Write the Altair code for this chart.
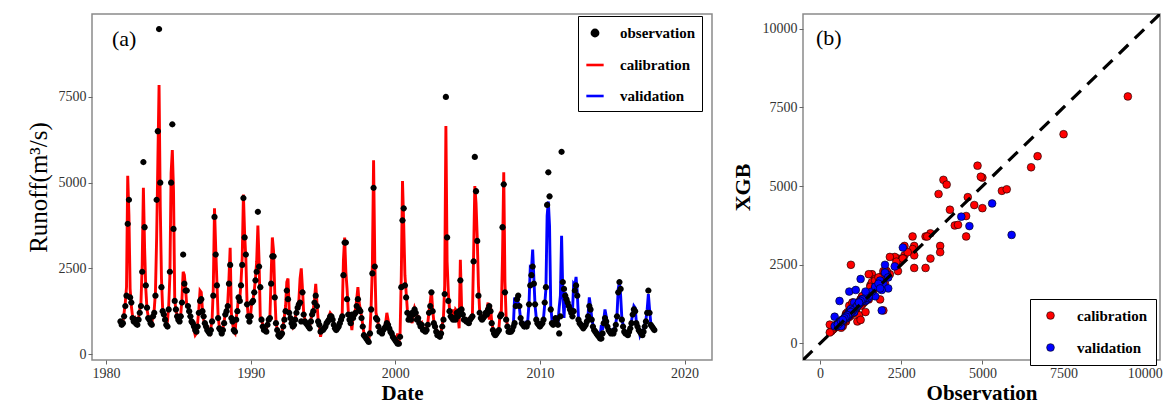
import altair as alt
import pandas as pd

# ---------------- data ----------------
years = list(range(1981, 2018))
calib_end_year = 2007  # calibration 1981-2007, validation 2008-2017

OBS = [
    [950, 850, 900, 1100, 1400, 1700, 3800, 4500, 1650, 1500, 1050, 950],      # 1981
    [1000, 880, 850, 1000, 1200, 1400, 2400, 5600, 3700, 2000, 1350, 1050],    # 1982
    [1000, 900, 850, 1100, 1200, 1700, 4500, 6500, 9480, 5000, 1950, 1250],    # 1983
    [1150, 1000, 850, 800, 1300, 2400, 5000, 6700, 3650, 1550, 1300, 1100],    # 1984
    [1000, 950, 1100, 1500, 2900, 2050, 1850, 1850, 1400, 1250, 1100, 950],    # 1985
    [900, 800, 700, 650, 800, 1200, 1550, 1600, 1250, 1100, 900, 800],         # 1986
    [700, 650, 600, 700, 950, 1700, 4000, 2900, 2000, 1050, 750, 700],         # 1987
    [600, 700, 900, 1150, 1250, 1400, 2050, 2600, 1050, 950, 700, 650],        # 1988
    [1000, 1250, 1650, 1550, 2000, 2600, 4550, 3400, 2900, 1450, 1100, 950],   # 1989
    [1100, 1500, 1550, 1800, 2150, 2400, 4150, 2550, 1950, 1000, 800, 700],    # 1990
    [700, 650, 850, 1000, 1050, 2050, 2850, 2850, 1650, 900, 700, 550],        # 1991
    [500, 550, 600, 800, 1000, 1250, 1850, 1600, 1200, 1050, 900, 800],        # 1992
    [850, 1000, 1200, 1350, 1450, 1500, 950, 1800, 1150, 950, 900, 850],       # 1993
    [800, 750, 950, 1150, 1250, 1500, 1700, 1400, 950, 850, 650, 700],         # 1994
    [700, 750, 800, 900, 950, 1000, 1100, 1100, 1000, 850, 750, 700],          # 1995
    [750, 800, 900, 1000, 1100, 2300, 3250, 3250, 1600, 1150, 1000, 900],      # 1996
    [1150, 1050, 1150, 1200, 1400, 1600, 1300, 1250, 1050, 800, 550, 500],     # 1997
    [450, 400, 350, 600, 1300, 2350, 4850, 2550, 1050, 1000, 800, 650],        # 1998
    [650, 600, 700, 750, 800, 900, 850, 750, 650, 600, 500, 450],              # 1999
    [400, 350, 300, 300, 500, 1950, 3900, 4250, 2000, 1650, 1200, 1000],       # 2000
    [1100, 1000, 1200, 1150, 1300, 1200, 1000, 1050, 900, 800, 850, 700],      # 2001
    [700, 650, 700, 850, 1200, 1400, 1800, 1250, 900, 800, 650, 550],          # 2002
    [550, 500, 600, 800, 1000, 1750, 7500, 3400, 1550, 1250, 1100, 1050],      # 2003
    [1000, 1050, 1000, 1200, 1100, 1250, 2150, 1300, 1150, 1000, 1000, 950],   # 2004
    [950, 900, 1000, 1050, 1100, 2700, 5750, 4750, 3300, 1700, 1200, 1050],    # 2005
    [1000, 1050, 1100, 1200, 1150, 1300, 1400, 1250, 900, 700, 600, 550],      # 2006
    [600, 650, 700, 1100, 1150, 3700, 4950, 1800, 1000, 800, 650, 650],        # 2007
    [650, 700, 800, 900, 1400, 1600, 1700, 1400, 1050, 900, 850, 800],         # 2008
    [850, 800, 900, 1450, 2000, 2300, 2550, 2050, 1450, 1000, 900, 850],       # 2009
    [800, 850, 900, 1000, 1500, 1950, 4350, 5300, 4600, 1300, 900, 850],       # 2010
    [900, 1050, 1000, 850, 600, 1100, 5900, 2100, 1900, 1700, 1600, 1500],     # 2011
    [1400, 1300, 1200, 1100, 1250, 1850, 2000, 1700, 1000, 900, 850, 800],     # 2012
    [750, 800, 850, 950, 1100, 1400, 1300, 1000, 800, 700, 650, 600],          # 2013
    [550, 500, 450, 450, 600, 900, 1050, 950, 800, 700, 650, 600],             # 2014
    [650, 600, 700, 850, 1100, 1800, 2100, 1900, 1000, 800, 650, 600],         # 2015
    [600, 550, 650, 750, 900, 1150, 1300, 1250, 900, 800, 700, 650],           # 2016
    [600, 550, 650, 800, 950, 1200, 1850, 1200, 850, 800, 750, 700],           # 2017
]

SIM = [
    [1000, 900, 950, 1200, 1500, 1950, 5200, 4050, 1900, 1400, 1100, 1000],    # 1981
    [1050, 950, 900, 1050, 1300, 1500, 2600, 4850, 3100, 1900, 1300, 1100],    # 1982
    [1050, 950, 900, 1150, 1300, 1800, 3400, 5600, 7850, 4300, 2200, 1300],    # 1983
    [1200, 1050, 900, 950, 1400, 2300, 5270, 5950, 4750, 1600, 1250, 1150],    # 1984
    [1050, 1000, 1150, 1600, 2400, 2300, 1900, 1400, 1400, 1200, 1050, 900],   # 1985
    [850, 700, 550, 600, 900, 1300, 1850, 1800, 1300, 1000, 850, 750],         # 1986
    [750, 650, 600, 750, 1000, 1900, 4250, 3100, 2100, 1100, 800, 700],        # 1987
    [650, 750, 950, 1200, 1300, 1500, 2200, 3100, 1200, 900, 650, 600],        # 1988
    [1050, 1300, 1700, 1600, 2100, 2800, 4650, 3500, 2800, 1500, 1100, 1000],  # 1989
    [1150, 1550, 1600, 1850, 2200, 2700, 3750, 2700, 1050, 1050, 850, 750],    # 1990
    [750, 700, 900, 1050, 1100, 2300, 3400, 3000, 1800, 950, 700, 600],        # 1991
    [550, 600, 650, 850, 1100, 1400, 2100, 2200, 1250, 1000, 900, 800],        # 1992
    [900, 1050, 1250, 1400, 1550, 2200, 2500, 1900, 1200, 1000, 900, 850],     # 1993
    [850, 800, 1000, 1200, 1300, 1600, 2050, 1500, 1000, 850, 500, 700],       # 1994
    [750, 800, 850, 950, 1000, 1100, 1200, 1150, 1050, 900, 800, 750],         # 1995
    [800, 850, 950, 1050, 1200, 2750, 3400, 2400, 1900, 1250, 1050, 950],      # 1996
    [700, 1100, 1200, 1300, 1600, 1950, 1500, 1300, 1100, 850, 600, 550],      # 1997
    [500, 450, 400, 650, 1400, 2600, 5650, 2700, 1200, 1050, 850, 700],        # 1998
    [700, 650, 750, 800, 900, 1200, 1000, 800, 700, 650, 550, 500],            # 1999
    [450, 400, 600, 350, 600, 2300, 5050, 3770, 2300, 1800, 1300, 1100],       # 2000
    [1150, 1050, 900, 1200, 1350, 1250, 1100, 1100, 950, 850, 900, 750],       # 2001
    [750, 700, 750, 900, 1250, 1500, 1850, 1300, 950, 850, 700, 600],          # 2002
    [600, 550, 650, 850, 1100, 2000, 6650, 2700, 1800, 1300, 1150, 1100],      # 2003
    [1300, 1100, 1300, 1250, 1150, 750, 2750, 1400, 1200, 1050, 1000, 950],    # 2004
    [1000, 950, 1050, 1100, 1150, 2900, 4900, 4400, 3400, 2000, 1250, 1100],   # 2005
    [1050, 1100, 1150, 1250, 1300, 1500, 1000, 1400, 950, 750, 650, 600],      # 2006
    [650, 700, 750, 1200, 1250, 2900, 5300, 2100, 1050, 850, 700, 700],        # 2007
    [700, 750, 850, 1650, 1450, 1550, 1500, 1350, 1000, 900, 850, 800],        # 2008
    [900, 850, 1000, 1500, 2500, 2450, 3050, 2200, 1400, 1050, 950, 900],      # 2009
    [850, 900, 950, 1050, 1450, 1900, 4030, 4450, 3730, 1400, 1000, 900],      # 2010
    [950, 1000, 1050, 900, 1350, 1700, 3450, 1750, 1050, 1800, 1650, 1500],    # 2011
    [1450, 1350, 1250, 1200, 2050, 2000, 2250, 1800, 1050, 950, 900, 850],     # 2012
    [800, 850, 900, 1000, 1150, 1650, 1400, 1050, 850, 750, 700, 650],         # 2013
    [600, 550, 550, 850, 700, 1000, 1300, 1100, 850, 750, 700, 650],           # 2014
    [700, 650, 750, 900, 1150, 1900, 2100, 1700, 1050, 850, 700, 650],         # 2015
    [650, 600, 700, 800, 950, 1200, 1400, 1350, 950, 800, 750, 550],           # 2016
    [650, 600, 700, 850, 1000, 1300, 1750, 1300, 900, 850, 800, 750],          # 2017
]

series_a = ["observation", "calibration", "validation"]
colors_a = ["black", "red", "blue"]
series_b = ["calibration", "validation"]
colors_b = ["red", "blue"]
diag = [-525, 10470]

# ---------------- tables ----------------
rows = []
for yi, yr in enumerate(years):
    for m in range(12):
        rows.append({
            "Date": yr + m / 12.0,
            "obs": OBS[yi][m],
            "sim": SIM[yi][m],
            "period": "calibration" if yr <= calib_end_year else "validation",
        })
df = pd.DataFrame(rows)
df_obs = df.assign(series="observation")
df_cal = df[df.period == "calibration"].assign(series="calibration")
df_val = df[df.period == "validation"].assign(series="validation")
df_diag = pd.DataFrame({"x": diag, "y": diag})

SERIF = "Liberation Serif"
LAB = "#333333"
# small circle as a custom path so the legend dot stays small next to long strokes
DOT = "M -0.36,0 A 0.36,0.36 0 1,1 0.36,0 A 0.36,0.36 0 1,1 -0.36,0 Z"

# ---------------- panel (a) ----------------
xa = alt.X("Date:Q", title="Date",
           scale=alt.Scale(domain=[1979.03, 2021.9], nice=False, zero=False),
           axis=alt.Axis(values=[1980, 1990, 2000, 2010, 2020], format="d"))
ya_scale = alt.Scale(domain=[-175, 9920], nice=False, zero=False)
ya_axis = alt.Axis(values=[0, 2500, 5000, 7500], format="d",
                   titleFontWeight="normal", titleFontSize=25, titlePadding=7)

col_a = alt.Color("series:N", title=None,
                  scale=alt.Scale(domain=series_a, range=colors_a),
                  legend=alt.Legend(orient="none", legendX=486, legendY=2,
                                    fillColor="white", strokeColor="black",
                                    padding=7, rowPadding=13,
                                    labelFont=SERIF, labelFontSize=15, labelFontWeight="bold",
                                    labelColor="black", symbolSize=300, symbolStrokeWidth=2.6,
                                    labelOffset=15, symbolOffset=0))

cal_line = alt.Chart(df_cal).mark_line(strokeWidth=2.9).encode(
    x=xa, y=alt.Y("sim:Q", title="Runoff(m³/s)", scale=ya_scale, axis=ya_axis), color=col_a)
val_line = alt.Chart(df_val).mark_line(strokeWidth=2.9).encode(
    x=xa, y=alt.Y("sim:Q", scale=ya_scale), color=col_a)
obs_pts = alt.Chart(df_obs).mark_point(filled=True, size=300, opacity=1).encode(
    x=xa, y=alt.Y("obs:Q", scale=ya_scale), color=col_a,
    shape=alt.Shape("series:N", title=None,
                    scale=alt.Scale(domain=series_a, range=[DOT, "stroke", "stroke"])))
lab_a = alt.Chart(pd.DataFrame({"t": ["(a)"]})).mark_text(
    font=SERIF, fontSize=22, align="left", baseline="middle", color="black").encode(
    text="t:N", x=alt.value(20), y=alt.value(25))

panel_a = alt.layer(cal_line, val_line, obs_pts, lab_a).properties(width=620, height=346)

# ---------------- panel (b) ----------------
sc_b = alt.Scale(domain=[-525, 10470], nice=False, zero=False)
ax_b = alt.Axis(values=[0, 2500, 5000, 7500, 10000], format="d")
df_sc = df.assign(group=df.period)

fill_b = alt.Fill("group:N", title=None,
                  scale=alt.Scale(domain=series_b, range=colors_b),
                  legend=alt.Legend(orient="none", legendX=227, legendY=285,
                                    fillColor="white", strokeColor="black",
                                    padding=9, rowPadding=16,
                                    labelFont=SERIF, labelFontSize=15, labelFontWeight="bold",
                                    labelColor="black", symbolSize=60,
                                    symbolStrokeColor="black", symbolStrokeWidth=0.6,
                                    labelOffset=19, symbolOffset=4))

diag_line = alt.Chart(df_diag).mark_line(color="black", strokeWidth=3.2,
                                         strokeDash=[13, 9], clip=True).encode(
    x=alt.X("x:Q", title="Observation", scale=sc_b, axis=ax_b),
    y=alt.Y("y:Q", title="XGB", scale=sc_b, axis=ax_b))
pts_b = alt.Chart(df_sc).mark_point(filled=True, size=60, stroke="black",
                                    strokeWidth=0.6, opacity=1).encode(
    x=alt.X("obs:Q", scale=sc_b), y=alt.Y("sim:Q", scale=sc_b), fill=fill_b)
lab_b = alt.Chart(pd.DataFrame({"t": ["(b)"]})).mark_text(
    font=SERIF, fontSize=22, align="left", baseline="middle", color="black").encode(
    text="t:N", x=alt.value(13), y=alt.value(24))

panel_b = alt.layer(pts_b, diag_line, lab_b).properties(width=357, height=346)

chart = alt.hconcat(panel_a, panel_b, spacing=17).resolve_scale(
    color="independent", shape="independent", fill="independent"
).properties(
    padding={"left": 25, "top": 13, "right": 2, "bottom": 0},
    background="white",
).configure_view(
    stroke="#8a8a8a", strokeWidth=1.5
).configure_axis(
    domain=False, grid=False, tickColor="#666666", tickSize=4, tickWidth=1,
    labelFont=SERIF, labelFontSize=14, labelColor=LAB, labelPadding=2,
    titleFont=SERIF, titleColor="black",
).configure_axisX(
    titleFontSize=21, titleFontWeight="bold", titlePadding=2
).configure_axisY(
    titleFontSize=22, titleFontWeight="bold", titlePadding=8
)

chart.save("out.html", embed_options={"renderer": "svg", "actions": False})
